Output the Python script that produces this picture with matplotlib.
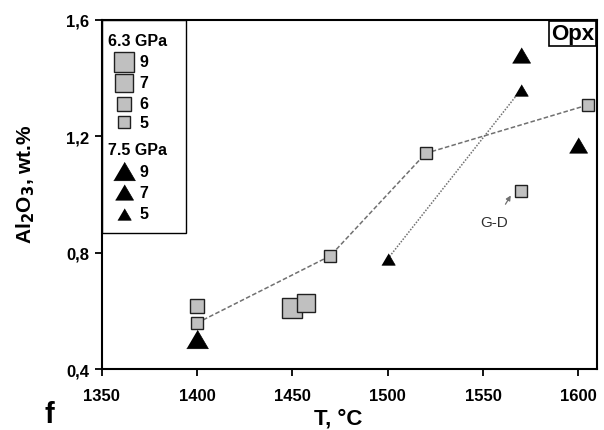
import numpy as np
import matplotlib
matplotlib.use('Agg')
import matplotlib.pyplot as plt
from matplotlib.patches import Rectangle

plt.rcParams['font.family'] = ['Liberation Sans', 'DejaVu Sans']
plt.rcParams['font.weight'] = 'bold'
plt.rcParams['mathtext.default'] = 'bf'

# 6.3 GPa (squares), marker "size" class 5..9
sq_T = [1400, 1400, 1450, 1457, 1470, 1520, 1605, 1570]
sq_al = [0.558, 0.615, 0.608, 0.627, 0.789, 1.141, 1.307, 1.011]
sq_cls = [5, 6, 9, 7, 5, 5, 5, 5]
sq_line_T = [1400, 1470, 1520, 1605]
sq_line_al = [0.558, 0.789, 1.141, 1.307]

# 7.5 GPa (triangles)
tr_T = [1400, 1500, 1570, 1570, 1600]
tr_al = [0.504, 0.778, 1.48, 1.36, 1.169]
tr_cls = [9, 5, 7, 5, 7]
tr_line_T = [1500, 1570]
tr_line_al = [0.778, 1.36]

sq_size = {9: 15, 7: 13, 6: 10, 5: 8.6}
tr_size = {9: 15.6, 7: 13, 5: 9.7}
tri = [(-1, -0.85), (1, -0.85), (0, 0.85)]

fig = plt.figure(figsize=(6.04, 4.31), dpi=100)
ax = fig.add_axes([0.1682, 0.1415, 0.8208, 0.8105])

ax.plot(sq_line_T, sq_line_al, ls=(0, (3, 1.5)), color='#707070', lw=1.1, zorder=2)
ax.plot(tr_line_T, tr_line_al, ls=(0, (1, 1)), color='#707070', lw=1.1, zorder=2)

for t, a, c in zip(sq_T, sq_al, sq_cls):
    ax.plot(t, a, marker='s', ms=sq_size[c], mfc='#c0c0c0', mec='#202020', mew=1.0, zorder=3)
for t, a, c in zip(tr_T, tr_al, tr_cls):
    ax.plot(t, a, marker=tri, ms=tr_size[c], mfc='black', mec='black', mew=0.5, zorder=4)

ax.annotate('G-D', xy=(1564.6, 0.996), xytext=(1556, 0.904), ha='center', va='center',
            fontsize=11, fontweight='normal', color='#303030',
            arrowprops=dict(arrowstyle='-|>', color='#707070', lw=0.9, mutation_scale=7,
                            shrinkA=7, shrinkB=0))

ax.set_xlim(1350, 1610)
ax.set_ylim(0.4, 1.6)
ax.set_xticks([1350, 1400, 1450, 1500, 1550, 1600])
ax.set_yticks([0.4, 0.8, 1.2, 1.6])
ax.set_yticklabels(['0,4', '0,8', '1,2', '1,6'])
ax.tick_params(direction='out', length=5, width=1.3, labelsize=12, pad=4)
ax.tick_params(axis='x', pad=9)
for lab in ax.get_xticklabels() + ax.get_yticklabels():
    lab.set_fontweight('bold')
for s in ax.spines.values():
    s.set_linewidth(1.5)

ax.set_xlabel('T, °C', fontsize=16, fontweight='bold')
ax.xaxis.set_label_coords(0.478, -0.11)
ax.set_ylabel('Al$_\\mathbf{2}$O$_\\mathbf{3}$, wt.%', fontsize=15, fontweight='bold')
ax.yaxis.set_label_coords(-0.13, 0.532)
fig.text(0.082, 0.004, 'f', fontsize=21, fontweight='bold', ha='center', va='bottom')

# Opx box
ax.text(0.993, 0.99, 'Opx', transform=ax.transAxes, ha='right', va='top', fontsize=16,
        fontweight='bold', bbox=dict(boxstyle='square,pad=0.1', fc='white', ec='black', lw=1.2))

# legend box
ax.add_patch(Rectangle((0, 0.39), 0.17, 0.61, transform=ax.transAxes, fill=False,
                       ec='black', lw=1.0, zorder=5))
mx, lx = 0.046, 0.077
ax.text(0.012, 0.94, '6.3 GPa', transform=ax.transAxes, fontsize=11.5, fontweight='bold', va='center')
for yy, c in zip([0.88, 0.82, 0.76, 0.706], [9, 7, 6, 5]):
    ax.plot(mx, yy, marker='s', ms=sq_size[c], mfc='#c0c0c0', mec='#202020', mew=1.0,
            transform=ax.transAxes, clip_on=False)
    ax.text(lx, yy, str(c), transform=ax.transAxes, fontsize=11.5, fontweight='bold', va='center')
ax.text(0.012, 0.628, '7.5 GPa', transform=ax.transAxes, fontsize=11.5, fontweight='bold', va='center')
for yy, c in zip([0.566, 0.506, 0.444], [9, 7, 5]):
    ax.plot(mx, yy, marker=tri, ms=tr_size[c], mfc='black', mec='black', mew=0.5,
            transform=ax.transAxes, clip_on=False)
    ax.text(lx, yy, str(c), transform=ax.transAxes, fontsize=11.5, fontweight='bold', va='center')

fig.savefig('out.png', dpi=100)
